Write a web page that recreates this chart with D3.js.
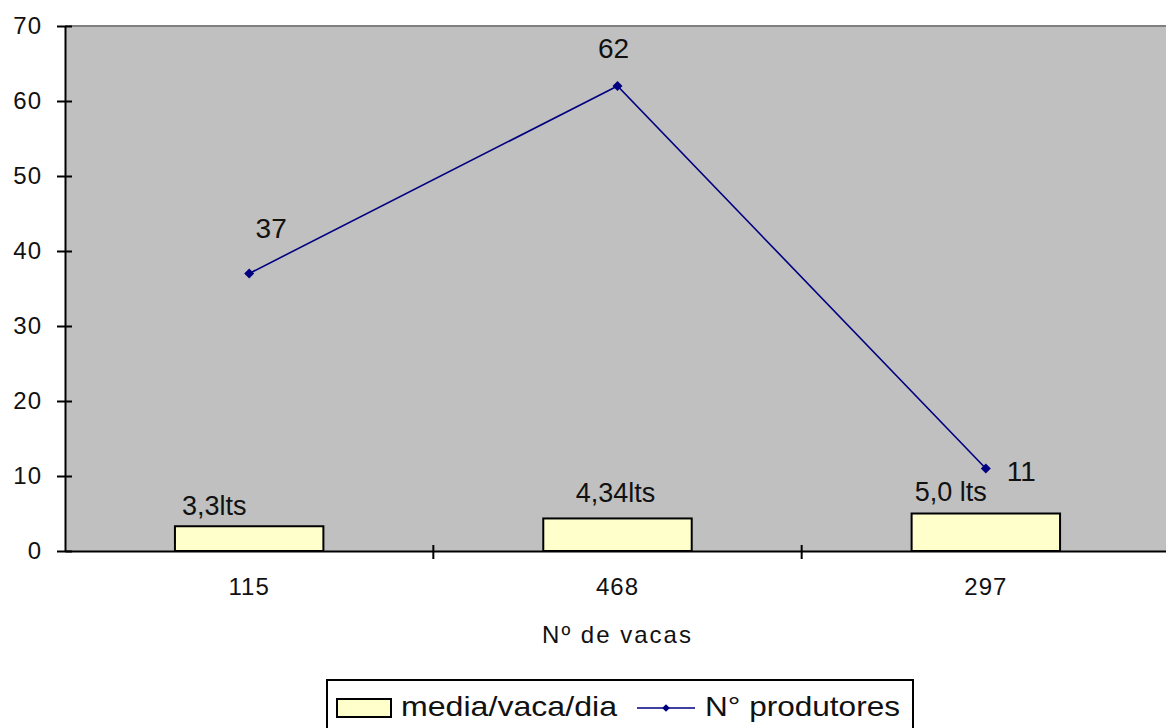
<!DOCTYPE html>
<html>
<head>
<meta charset="utf-8">
<script src="https://cdn.jsdelivr.net/npm/d3@7/dist/d3.min.js"></script>
<style>
  html, body { margin: 0; padding: 0; background: #fff; }
  svg { display: block; font-family: Arial, "Liberation Sans", sans-serif; }
</style>
</head>
<body>
<svg id="chart" width="1166" height="728"></svg>
<script>
// Number of cows per group (x categories)
const categories = ["115", "468", "297"];
// Average litres per cow per day (bars)
const mediaVacaDia = [3.3, 4.34, 5.0];
const mediaLabels = ["3,3lts", "4,34lts", "5,0 lts"];
// Number of producers (line)
const produtores = [37, 62, 11];
const yTicks = [0, 10, 20, 30, 40, 50, 60, 70];

// Label placement relative to each mark
const barLabelOffsets = [[-35, -11], [-2, -16], [-35, -13]];
const lineLabelOffsets = [[22, -36, "middle"], [-4, -28, "middle"], [21, 12, "start"]];

const svg = d3.select("#chart");
const plotLeft = 65, plotRight = 1170, plotTop = 26, plotBottom = 551;

const x = d3.scaleBand().domain(categories).range([plotLeft, plotRight]).paddingInner(0).paddingOuter(0);
const y = d3.scaleLinear().domain([0, 70]).range([plotBottom, plotTop]);
const barW = x.bandwidth() * 0.403;

// Plot area
svg.append("rect")
  .attr("x", plotLeft).attr("y", plotTop)
  .attr("width", plotRight - plotLeft).attr("height", plotBottom - plotTop)
  .attr("fill", "#c0c0c0");
svg.append("line")
  .attr("x1", plotLeft).attr("x2", plotRight).attr("y1", plotTop).attr("y2", plotTop)
  .attr("stroke", "#808080").attr("stroke-width", 2);

// Bars
svg.selectAll("rect.bar").data(mediaVacaDia).enter().append("rect")
  .attr("class", "bar")
  .attr("x", (d, i) => x(categories[i]) + x.bandwidth() / 2 - barW / 2)
  .attr("y", d => y(d))
  .attr("width", barW)
  .attr("height", d => y(0) - y(d))
  .attr("fill", "#ffffcc")
  .attr("stroke", "#000").attr("stroke-width", 2);

svg.selectAll("text.barlab").data(mediaVacaDia).enter().append("text")
  .attr("class", "barlab")
  .attr("x", (d, i) => x(categories[i]) + x.bandwidth() / 2 + barLabelOffsets[i][0])
  .attr("y", (d, i) => y(d) + barLabelOffsets[i][1])
  .attr("text-anchor", "middle")
  .attr("font-size", 27)
  .attr("fill", "#111")
  .text((d, i) => mediaLabels[i]);

// Axes
const axisFont = "Arial, 'Liberation Sans', sans-serif";
const yAxis = svg.append("g")
  .attr("transform", `translate(${plotLeft},0)`)
  .call(d3.axisLeft(y).tickValues(yTicks).tickSize(8).tickPadding(15).tickSizeOuter(0));
yAxis.select(".domain").attr("stroke", "#000").attr("stroke-width", 2);
yAxis.selectAll(".tick line").attr("x1", 7).attr("x2", -8).attr("stroke", "#000").attr("stroke-width", 2);
yAxis.selectAll(".tick text").attr("font-size", 24).attr("fill", "#111")
  .attr("font-family", axisFont).attr("letter-spacing", 1);

const xAxis = svg.append("g")
  .attr("transform", `translate(0,${plotBottom})`)
  .call(d3.axisBottom(x).tickSize(0).tickPadding(27));
xAxis.select(".domain").attr("stroke", "#000").attr("stroke-width", 2);
xAxis.selectAll(".tick text").attr("font-size", 24).attr("fill", "#111")
  .attr("font-family", axisFont).attr("letter-spacing", 1);

// Category boundary ticks
const boundaries = categories.slice(1).map(c => x(c));
svg.selectAll("line.xb").data(boundaries).enter().append("line")
  .attr("class", "xb")
  .attr("x1", d => d).attr("x2", d => d)
  .attr("y1", plotBottom - 6).attr("y2", plotBottom + 8)
  .attr("stroke", "#000").attr("stroke-width", 2);

svg.append("text")
  .attr("x", x("468") + x.bandwidth() / 2)
  .attr("y", 643)
  .attr("text-anchor", "middle")
  .attr("font-size", 24)
  .attr("letter-spacing", 2)
  .attr("fill", "#111")
  .text("Nº de vacas");

// Line of producers
const cx = i => x(categories[i]) + x.bandwidth() / 2;
const line = d3.line().x((d, i) => cx(i)).y(d => y(d));
svg.append("path")
  .datum(produtores)
  .attr("d", line)
  .attr("fill", "none")
  .attr("stroke", "#000080")
  .attr("stroke-width", 1.6);

// Square marker rotated 45° gives the compact diamond
const marker = d3.symbol().type(d3.symbolSquare).size(50);
svg.selectAll("path.pt").data(produtores).enter().append("path")
  .attr("class", "pt")
  .attr("transform", (d, i) => `translate(${cx(i)},${y(d)}) rotate(45)`)
  .attr("d", marker)
  .attr("fill", "#000080");

svg.selectAll("text.ptlab").data(produtores).enter().append("text")
  .attr("class", "ptlab")
  .attr("x", (d, i) => cx(i) + lineLabelOffsets[i][0])
  .attr("y", (d, i) => y(d) + lineLabelOffsets[i][1])
  .attr("text-anchor", (d, i) => lineLabelOffsets[i][2])
  .attr("font-size", 28)
  .attr("fill", "#111")
  .text(d => d);

// Legend
const legend = svg.append("g");
legend.append("rect")
  .attr("x", 327).attr("y", 680).attr("width", 586).attr("height", 60)
  .attr("fill", "#fff").attr("stroke", "#000").attr("stroke-width", 2);
legend.append("rect")
  .attr("x", 337).attr("y", 699).attr("width", 54).attr("height", 18)
  .attr("fill", "#ffffcc").attr("stroke", "#000").attr("stroke-width", 2);
legend.append("text")
  .attr("x", 401).attr("y", 716)
  .attr("font-size", 28).attr("fill", "#111")
  .attr("textLength", 216).attr("lengthAdjust", "spacingAndGlyphs")
  .text("media/vaca/dia");
legend.append("line")
  .attr("x1", 637).attr("x2", 695).attr("y1", 708).attr("y2", 708)
  .attr("stroke", "#000080").attr("stroke-width", 1.6);
legend.append("path")
  .attr("transform", "translate(666,708) rotate(45)")
  .attr("d", d3.symbol().type(d3.symbolSquare).size(30))
  .attr("fill", "#000080");
legend.append("text")
  .attr("x", 705).attr("y", 716)
  .attr("font-size", 28).attr("fill", "#111")
  .attr("textLength", 195).attr("lengthAdjust", "spacingAndGlyphs")
  .text("N° produtores");
</script>
</body>
</html>
